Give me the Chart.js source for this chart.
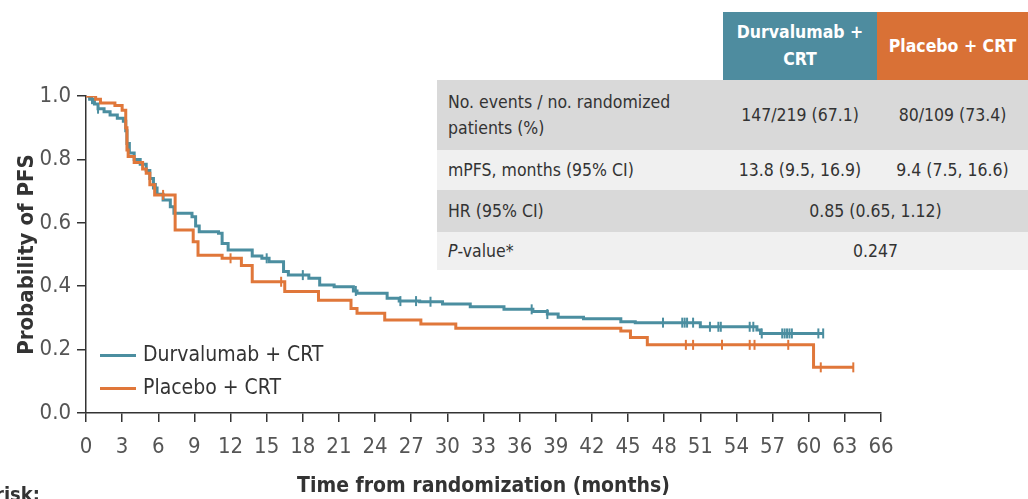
<!DOCTYPE html>
<html>
<head>
<meta charset="utf-8">
<script src="https://cdn.jsdelivr.net/npm/chart.js@4.4.1/dist/chart.umd.min.js"></script>
<style>
  body { margin: 0; background: #fff; font-family: 'Liberation Sans Narrow', 'DejaVu Sans Condensed', sans-serif; }
  #wrap { position: relative; width: 1028px; height: 499px; overflow: hidden; }
  #chart { position: absolute; left: 0; top: 0; }
  .legend { position: absolute; left: 100px; font-size: 21px; color: #333; }
  .legend span.sw { display: inline-block; width: 36px; height: 3px; vertical-align: middle; margin-right: 7px; }
  .tbl { position: absolute; font-size: 17.5px; color: #333; }
  .cell { position: absolute; display: flex; align-items: center; box-sizing: border-box; }
  .risk { position: absolute; left: -84px; top: 482px; width: 124px; text-align: right; font-weight: bold; font-size: 20px; color: #333; }
</style>
</head>
<body>
<div id="wrap">
  <canvas id="chart" width="1028" height="499"></canvas>
  <div class="legend" style="top:342px"><span class="sw" style="background:#4b8ea0"></span>Durvalumab + CRT</div>
  <div class="legend" style="top:375px"><span class="sw" style="background:#e0773a"></span>Placebo + CRT</div>
  <div id="table"></div>
  <div class="risk">No. at risk:</div>
</div>
<script>
// Kaplan-Meier PFS, values
const durvTime = [0, 0.3, 0.7, 1.0, 1.5, 2.0, 2.6, 3.1, 3.3, 3.4, 3.6, 4.0, 4.5, 5.0, 5.3, 5.6, 5.9, 6.4, 7.0, 7.3, 8.8, 9.1, 9.4, 11.0, 11.3, 11.8, 13.8, 14.6, 15.2, 16.4, 16.8, 18.5, 19.4, 20.6, 22.2, 22.5, 25.0, 26.0, 27.7, 29.6, 31.9, 34.7, 37.1, 38.3, 39.2, 41.3, 44.4, 45.6, 51.0, 55.7, 56.0, 61.2];
const durvSurv = [1.0, 0.99, 0.975, 0.96, 0.95, 0.94, 0.93, 0.92, 0.89, 0.85, 0.82, 0.80, 0.785, 0.765, 0.74, 0.71, 0.69, 0.672, 0.651, 0.63, 0.619, 0.59, 0.572, 0.567, 0.535, 0.514, 0.495, 0.488, 0.477, 0.446, 0.435, 0.425, 0.404, 0.398, 0.385, 0.378, 0.362, 0.353, 0.351, 0.344, 0.335, 0.327, 0.32, 0.312, 0.302, 0.297, 0.288, 0.285, 0.272, 0.262, 0.251, 0.251];
const durvCensor = [0.5, 1.0, 5.8, 15.0, 18.0, 22.4, 26.1, 27.4, 28.6, 37.0, 38.3, 47.9, 49.5, 49.7, 49.9, 50.4, 51.8, 52.5, 52.7, 55.1, 55.4, 56.1, 57.8, 58.0, 58.2, 58.4, 58.6, 60.8, 61.2];

const placTime = [0, 0.8, 1.2, 2.4, 3.0, 3.3, 3.4, 3.5, 4.0, 4.7, 5.0, 5.3, 5.7, 7.4, 8.9, 9.3, 11.3, 12.9, 13.8, 16.5, 19.3, 22.0, 22.5, 24.8, 27.8, 30.7, 44.4, 45.2, 46.6, 60.4, 63.7];
const placSurv = [1.0, 0.99, 0.978, 0.97, 0.955, 0.9, 0.83, 0.809, 0.79, 0.77, 0.756, 0.72, 0.688, 0.577, 0.54, 0.498, 0.488, 0.465, 0.414, 0.383, 0.356, 0.33, 0.315, 0.293, 0.281, 0.267, 0.259, 0.238, 0.215, 0.144, 0.144];
const placCensor = [6.4, 12.0, 16.2, 49.8, 50.4, 52.8, 55.1, 55.5, 58.3, 61.0, 63.7];

const seriesNames = ['Durvalumab + CRT', 'Placebo + CRT'];
const xTicks = [0, 3, 6, 9, 12, 15, 18, 21, 24, 27, 30, 33, 36, 39, 42, 45, 48, 51, 54, 57, 60, 63, 66];
const yTicks = [0, 0.2, 0.4, 0.6, 0.8, 1.0];

// summary table
const rowLabels = ['No. events / no. randomized<br>patients (%)', 'mPFS, months (95% CI)', 'HR (95% CI)', '<i>P</i>-value*'];
const durvCol = ['147/219 (67.1)', '13.8 (9.5, 16.9)'];
const placCol = ['80/109 (73.4)', '9.4 (7.5, 16.6)'];
const jointCol = ['0.85 (0.65, 1.12)', '0.247'];

const TEAL = '#4b8ea0';
const ORANGE = '#e0773a';
const FONT = "'Liberation Sans Narrow', 'DejaVu Sans Condensed', sans-serif";

function stepAt(times, surv, t) {
    let v = surv[0];
    for (let i = 0; i < times.length; i++) {
        if (times[i] <= t) v = surv[i];
    }
    return v;
}

function buildTable() {
    const host = document.getElementById('table');
    let html = '';
    html += `<div class="cell tbl" style="left:723px;top:12px;width:154px;height:68px;background:#4e8c9f;color:#fff;font-weight:bold;justify-content:center;text-align:center;line-height:27px">Durvalumab +<br>CRT</div>`;
    html += `<div class="cell tbl" style="left:877px;top:12px;width:151px;height:68px;background:#d97136;color:#fff;font-weight:bold;justify-content:center">Placebo + CRT</div>`;
    const rowTops = [80, 150, 190, 232];
    const rowH = [70, 40, 42, 38];
    const rowBg = ['#d9d9d9', '#f0f0f0', '#d9d9d9', '#f0f0f0'];
    rowLabels.forEach((lab, i) => {
        html += `<div class="cell tbl" style="left:437px;top:${rowTops[i]}px;width:591px;height:${rowH[i]}px;background:${rowBg[i]}"></div>`;
        html += `<div class="cell tbl" style="left:448px;top:${rowTops[i]}px;width:270px;height:${rowH[i]}px;line-height:26px">${lab}</div>`;
        if (i < 2) {
            html += `<div class="cell tbl" style="left:723px;top:${rowTops[i]}px;width:154px;height:${rowH[i]}px;justify-content:center">${durvCol[i]}</div>`;
            html += `<div class="cell tbl" style="left:877px;top:${rowTops[i]}px;width:151px;height:${rowH[i]}px;justify-content:center">${placCol[i]}</div>`;
        } else {
            html += `<div class="cell tbl" style="left:723px;top:${rowTops[i]}px;width:305px;height:${rowH[i]}px;justify-content:center">${jointCol[i - 2]}</div>`;
        }
    });
    host.innerHTML = html;
}

function makeChart() {
    const durvLine = durvTime.map((t, i) => ({ x: t, y: durvSurv[i] }));
    const placLine = placTime.map((t, i) => ({ x: t, y: placSurv[i] }));
    const durvMarks = durvCensor.map(t => ({ x: t, y: stepAt(durvTime, durvSurv, t) }));
    const placMarks = placCensor.map(t => ({ x: t, y: stepAt(placTime, placSurv, t) }));

    const censorStyle = color => ({
        type: 'scatter',
        pointStyle: 'line',
        rotation: 90,
        radius: 5,
        borderWidth: 2,
        borderColor: color,
        backgroundColor: color
    });

    const ctx = document.getElementById('chart');
    new Chart(ctx, {
        type: 'line',
        data: {
            datasets: [
                { label: seriesNames[1], data: placLine, borderColor: ORANGE, borderWidth: 3, stepped: true, pointRadius: 0, fill: false },
                { label: seriesNames[1] + ' censored', data: placMarks, ...censorStyle(ORANGE) },
                { label: seriesNames[0], data: durvLine, borderColor: TEAL, borderWidth: 3, stepped: true, pointRadius: 0, fill: false },
                { label: seriesNames[0] + ' censored', data: durvMarks, ...censorStyle(TEAL) }
            ]
        },
        options: {
            responsive: false,
            animation: false,
            layout: { padding: { top: 96, right: 147, left: 0, bottom: 0 } },
            plugins: { legend: { display: false }, tooltip: { enabled: false } },
            scales: {
                x: {
                    type: 'linear',
                    min: 0,
                    max: 66,
                    afterBuildTicks: scale => { scale.ticks = xTicks.map(v => ({ value: v })); },
                    afterFit: scale => { scale.height = 86; },
                    grid: { display: true, drawOnChartArea: false, drawTicks: true, tickLength: 9, color: '#333', lineWidth: 1.5 },
                    border: { display: true, color: '#333', width: 1.5 },
                    ticks: { autoSkip: false, maxRotation: 0, padding: 12, color: '#555', font: { family: FONT, size: 22 } },
                    title: { display: true, text: 'Time from randomization (months)', color: '#333', padding: { top: 0, bottom: 0 }, font: { family: FONT, size: 21, weight: 'bold' } }
                },
                y: {
                    min: 0,
                    max: 1,
                    afterBuildTicks: scale => { scale.ticks = yTicks.map(v => ({ value: v })); },
                    afterFit: scale => { scale.width = 86; },
                    grid: { display: true, drawOnChartArea: false, drawTicks: true, tickLength: 9, color: '#333', lineWidth: 1.5 },
                    border: { display: true, color: '#333', width: 1.5 },
                    ticks: { padding: 6, color: '#555', font: { family: FONT, size: 22 }, callback: v => v.toFixed(1) },
                    title: { display: true, text: 'Probability of PFS', color: '#333', padding: { top: 14, bottom: 0 }, font: { family: FONT, size: 22, weight: 'bold' } }
                }
            }
        }
    });
}

buildTable();
makeChart();
</script>
</body>
</html>
